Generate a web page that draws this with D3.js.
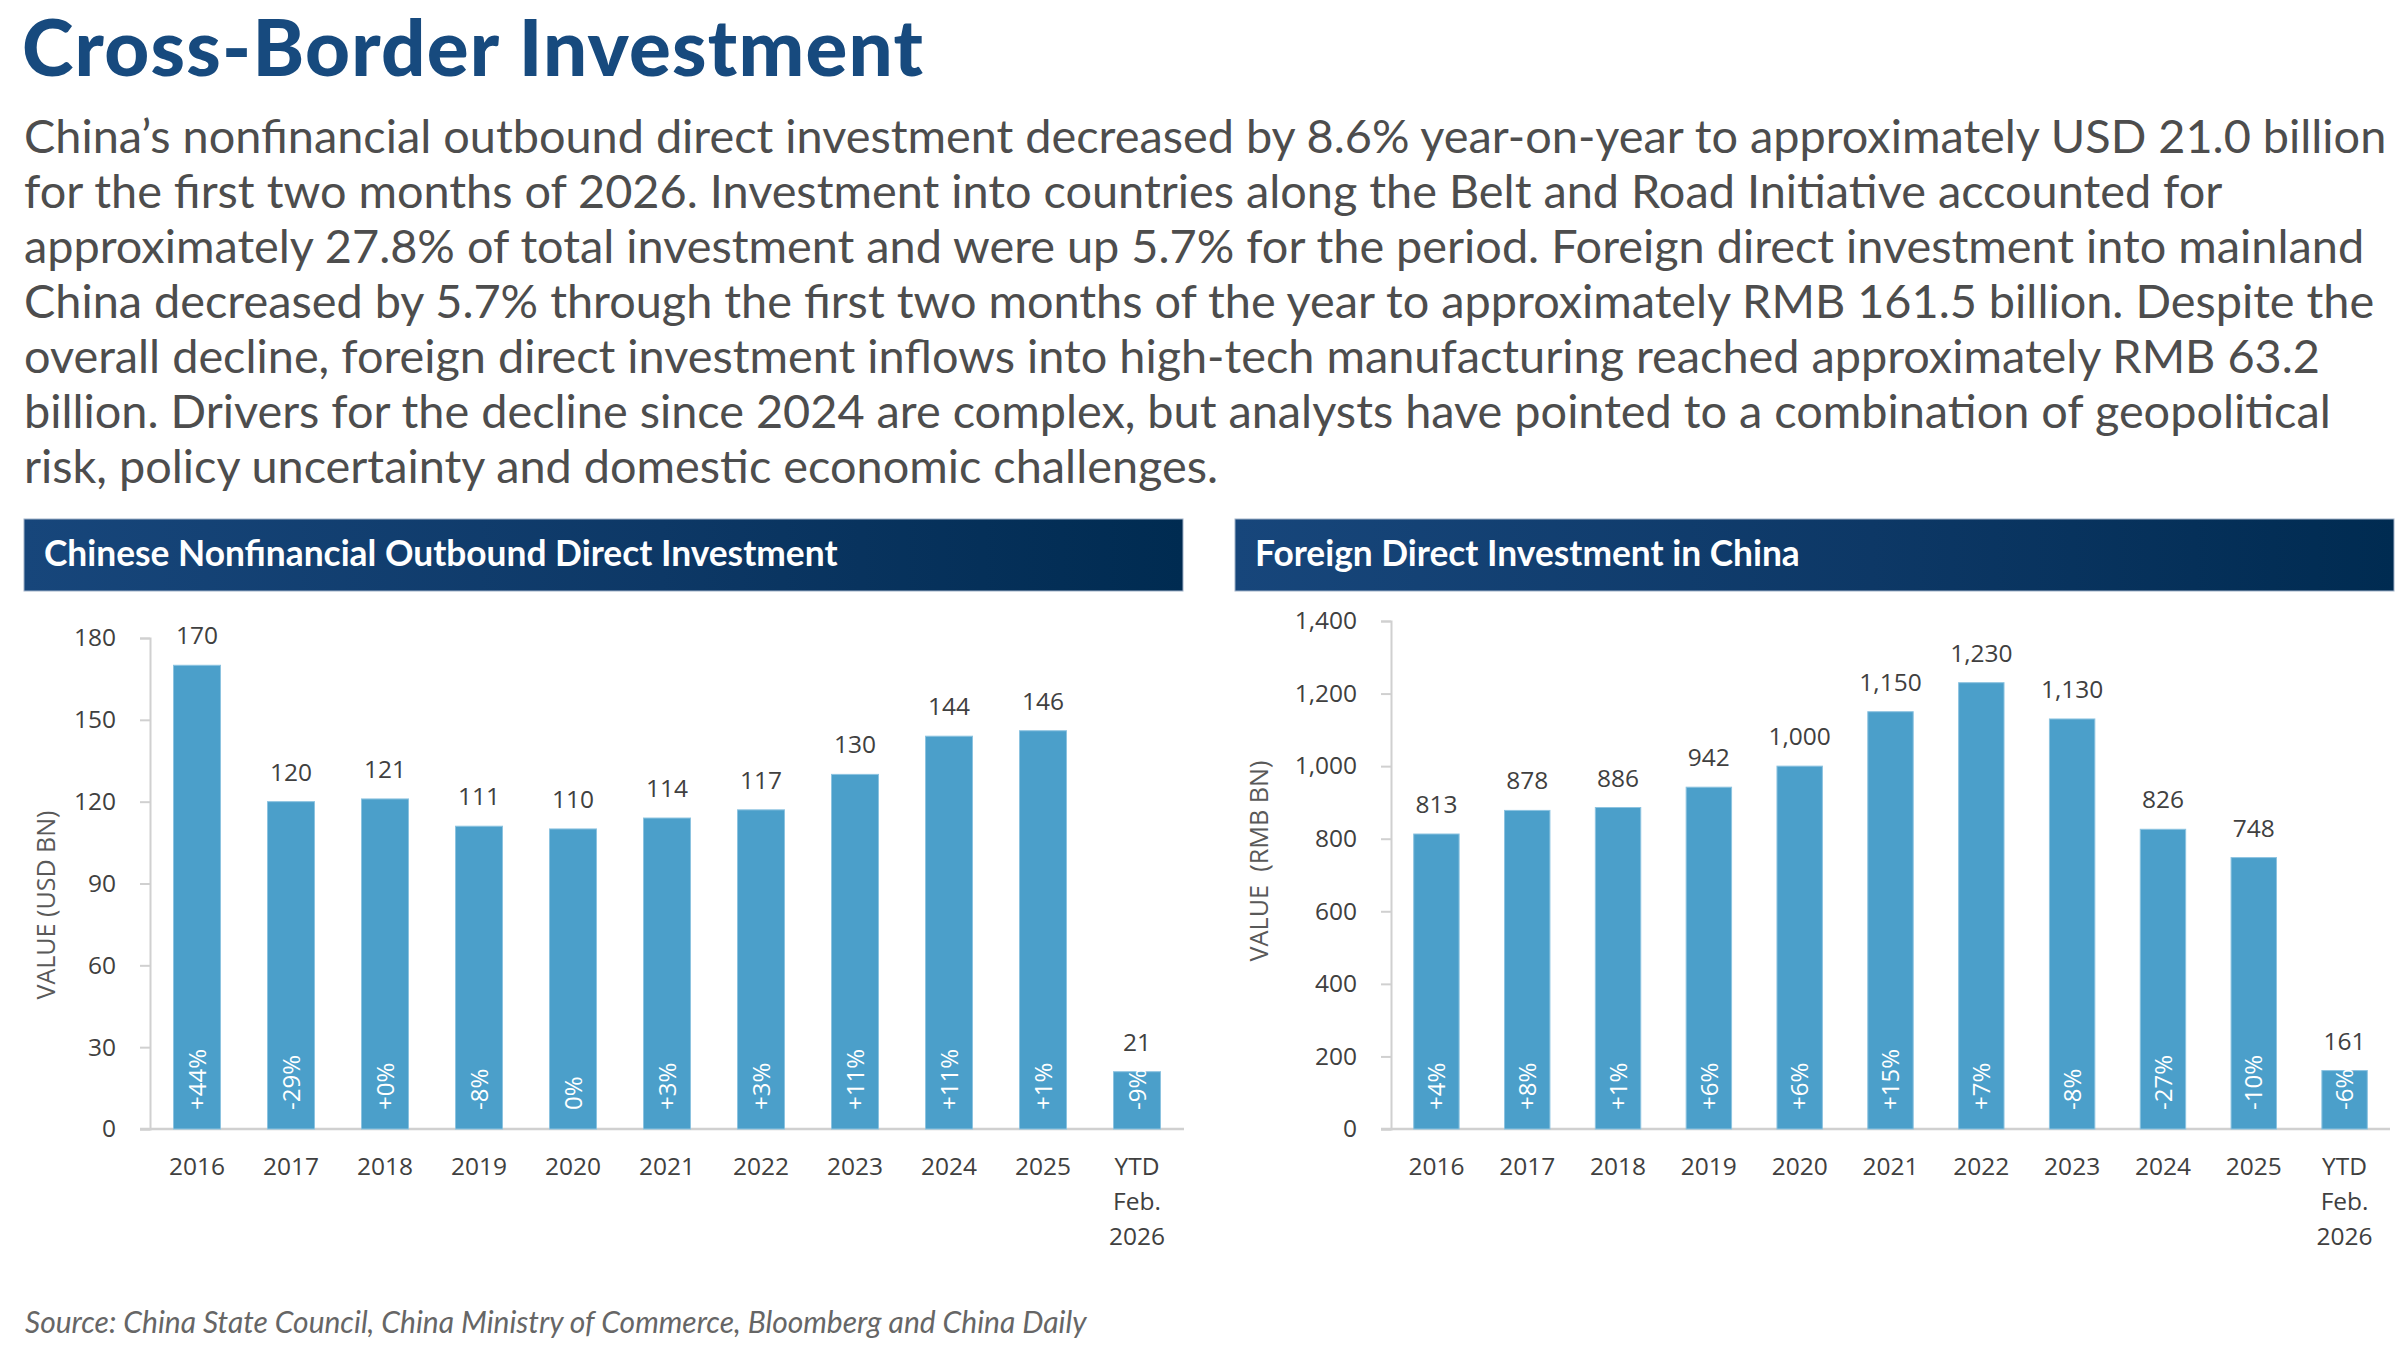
<!DOCTYPE html>
<html>
<head>
<meta charset="utf-8">
<script src="https://cdn.jsdelivr.net/npm/d3@7"></script>
<style>
  body { margin: 0; background: #fff; }
  svg { display: block; }
</style>
</head>
<body>
<svg></svg>
<script>
const width = 2400;
const height = 1370;

// data
const categories = ['2016', '2017', '2018', '2019', '2020', '2021', '2022', '2023', '2024', '2025', 'YTD\nFeb.\n2026'];
const outboundValues = [170, 120, 121, 111, 110, 114, 117, 130, 144, 146, 21];
const outboundChange = ['+44%', '-29%', '+0%', '-8%', '0%', '+3%', '+3%', '+11%', '+11%', '+1%', '-9%'];
const outboundTicks = [0, 30, 60, 90, 120, 150, 180];
const fdiValues = [813, 878, 886, 942, 1000, 1150, 1230, 1130, 826, 748, 161];
const fdiChange = ['+4%', '+8%', '+1%', '+6%', '+6%', '+15%', '+7%', '-8%', '-27%', '-10%', '-6%'];
const fdiTicks = [0, 200, 400, 600, 800, 1000, 1200, 1400];

const titleText = 'Cross-Border Investment';
const paragraph = [
    'China’s nonfinancial outbound direct investment decreased by 8.6% year-on-year to approximately USD 21.0 billion',
    'for the first two months of 2026. Investment into countries along the Belt and Road Initiative accounted for',
    'approximately 27.8% of total investment and were up 5.7% for the period. Foreign direct investment into mainland',
    'China decreased by 5.7% through the first two months of the year to approximately RMB 161.5 billion. Despite the',
    'overall decline, foreign direct investment inflows into high-tech manufacturing reached approximately RMB 63.2',
    'billion. Drivers for the decline since 2024 are complex, but analysts have pointed to a combination of geopolitical',
    'risk, policy uncertainty and domestic economic challenges.'
];
const sourceText = 'Source: China State Council, China Ministry of Commerce, Bloomberg and China Daily';

const barColor = '#4b9fca';
const textColor = '#404040';
const sansFont = 'Lato, "Open Sans", sans-serif';
const chartFont = '"Open Sans", "Noto Sans", sans-serif';

const svg = d3.select('svg')
    .attr('width', width)
    .attr('height', height)
    .attr('viewBox', `0 0 ${width} ${height}`);

// scale a text's font so it spans the given width
function fitWidth(sel, target) {
    const size = parseFloat(sel.style('font-size'));
    const len = sel.node().getComputedTextLength();
    const newSize = size * target / len;
    sel.style('font-size', `${newSize}px`);
    return newSize;
}

// keep the font size, stretch with letter spacing instead
function spreadTo(sel, target) {
    const len = sel.node().getComputedTextLength();
    const n = sel.text().length;
    sel.style('letter-spacing', `${(target - len) / (n - 1)}px`);
}

svg.append('text')
    .attr('x', 22)
    .attr('y', 76)
    .text(titleText)
    .style('font-family', sansFont)
    .style('font-weight', 900)
    .style('font-size', '78px')
    .style('fill', '#174a7e')
    .call(s => spreadTo(s, 901));

// body paragraph, one text per line
const lines = svg.append('g')
    .style('font-family', sansFont)
    .style('font-size', '44px')
    .style('fill', '#4d4d4d');

const firstLine = lines.append('text')
    .attr('x', 24)
    .attr('y', 153)
    .text(paragraph[0]);
const paraSize = fitWidth(firstLine, 2363);

lines.selectAll('.para-line')
    .data(paragraph.slice(1))
    .enter().append('text')
    .attr('class', 'para-line')
    .attr('x', 24)
    .attr('y', (d, i) => 153 + (i + 1) * 55)
    .style('font-size', `${paraSize}px`)
    .text(d => d);

svg.append('text')
    .attr('x', 25)
    .attr('y', 1333)
    .text(sourceText)
    .style('font-family', sansFont)
    .style('font-style', 'italic')
    .style('font-size', '27px')
    .style('fill', '#666')
    .call(s => fitWidth(s, 1062));

const defs = svg.append('defs');
const grad = defs.append('linearGradient')
    .attr('id', 'headerGrad')
    .attr('x1', '0%').attr('x2', '100%')
    .attr('y1', '0%').attr('y2', '0%');
grad.append('stop').attr('offset', '0%').attr('stop-color', '#17467b');
grad.append('stop').attr('offset', '55%').attr('stop-color', '#0d3866');
grad.append('stop').attr('offset', '100%').attr('stop-color', '#002b51');

function drawChart(opts) {
    const g = svg.append('g');

    // panel header
    g.append('rect')
        .attr('x', opts.headerX)
        .attr('y', 519)
        .attr('width', opts.headerW)
        .attr('height', 72)
        .attr('fill', 'url(#headerGrad)')
        .attr('stroke', '#9fb1c8')
        .attr('stroke-width', 1);

    g.append('text')
        .attr('x', opts.headerX + opts.titleDx)
        .attr('y', 566)
        .text(opts.title)
        .style('font-family', sansFont)
        .style('font-weight', 700)
        .style('font-size', '33px')
        .style('fill', '#fff')
        .call(s => fitWidth(s, opts.titleW));

    const x = d3.scaleBand()
        .domain(categories)
        .range([opts.x0, opts.x1])
        .paddingInner(0.5)
        .paddingOuter(0.25);

    const y = d3.scaleLinear()
        .domain([0, opts.yMax])
        .range([1129, opts.yTop]);

    // y axis
    const yAxis = g.append('g')
        .attr('transform', `translate(${opts.x0},0)`)
        .call(d3.axisLeft(y)
            .tickValues(opts.ticks)
            .tickSize(10)
            .tickPadding(24)
            .tickFormat(d3.format(',')));
    yAxis.select('.domain').attr('stroke', '#d0d0d0').attr('stroke-width', 2);
    yAxis.selectAll('.tick line').attr('stroke', '#d0d0d0').attr('stroke-width', 2);
    yAxis.selectAll('.tick text')
        .style('font-family', chartFont)
        .style('font-size', '24.5px')
        .style('fill', textColor);

    // x axis baseline
    g.append('line')
        .attr('x1', opts.x0 - 10)
        .attr('x2', opts.x1)
        .attr('y1', y(0))
        .attr('y2', y(0))
        .attr('stroke', '#d0d0d0')
        .attr('stroke-width', 2.5);

    const rows = opts.values.map((v, i) => ({
        cat: categories[i],
        value: v,
        change: opts.change[i]
    }));

    g.selectAll('.bar')
        .data(rows)
        .enter().append('rect')
        .attr('class', 'bar')
        .attr('x', d => x(d.cat))
        .attr('y', d => y(d.value))
        .attr('width', x.bandwidth())
        .attr('height', d => y(0) - y(d.value))
        .attr('fill', barColor)
        .attr('stroke', '#8cc3e0')
        .attr('stroke-width', 1);

    g.selectAll('.value-label')
        .data(rows)
        .enter().append('text')
        .attr('class', 'value-label')
        .attr('x', d => x(d.cat) + x.bandwidth() / 2)
        .attr('y', d => y(d.value) - 21)
        .attr('text-anchor', 'middle')
        .text(d => d3.format(',')(d.value))
        .style('font-family', chartFont)
        .style('font-size', '24.5px')
        .style('fill', textColor);

    g.selectAll('.change-label')
        .data(rows)
        .enter().append('text')
        .attr('class', 'change-label')
        .attr('transform', d => `translate(${x(d.cat) + x.bandwidth() / 2},1110) rotate(-90)`)
        .attr('dy', '0.36em')
        .attr('text-anchor', 'start')
        .text(d => d.change)
        .style('font-family', chartFont)
        .style('font-size', '24px')
        .style('fill', '#fff');

    const xLabels = g.selectAll('.x-label')
        .data(categories)
        .enter().append('text')
        .attr('class', 'x-label')
        .attr('text-anchor', 'middle')
        .style('font-family', chartFont)
        .style('font-size', '24.5px')
        .style('fill', textColor);

    xLabels.selectAll('tspan')
        .data(d => d.split('\n').map(t => ({ t, cx: x(d) + x.bandwidth() / 2 })))
        .enter().append('tspan')
        .attr('x', d => d.cx)
        .attr('y', (d, i) => 1175 + i * 35)
        .text(d => d.t);

    g.append('text')
        .attr('transform', `translate(${opts.labelX},${opts.labelY}) rotate(-90)`)
        .attr('text-anchor', 'middle')
        .attr('dy', '0.35em')
        .text(opts.yLabel)
        .style('white-space', 'pre')
        .style('font-family', chartFont)
        .style('font-size', '22px')
        .style('fill', '#595959')
        .call(s => fitWidth(s, opts.labelW));
}

drawChart({
    title: 'Chinese Nonfinancial Outbound Direct Investment',
    headerX: 24, headerW: 1159, titleDx: 20, titleW: 794,
    x0: 150, x1: 1184, yTop: 638, yMax: 180,
    ticks: outboundTicks,
    values: outboundValues,
    change: outboundChange,
    yLabel: 'VALUE (USD BN)',
    labelX: 46, labelY: 905, labelW: 189
});

drawChart({
    title: 'Foreign Direct Investment in China',
    headerX: 1235, headerW: 1159, titleDx: 20, titleW: 545,
    x0: 1391, x1: 2390, yTop: 621, yMax: 1400,
    ticks: fdiTicks,
    values: fdiValues,
    change: fdiChange,
    yLabel: 'VALUE  (RMB BN)',
    labelX: 1259, labelY: 861, labelW: 201
});
</script>
</body>
</html>
